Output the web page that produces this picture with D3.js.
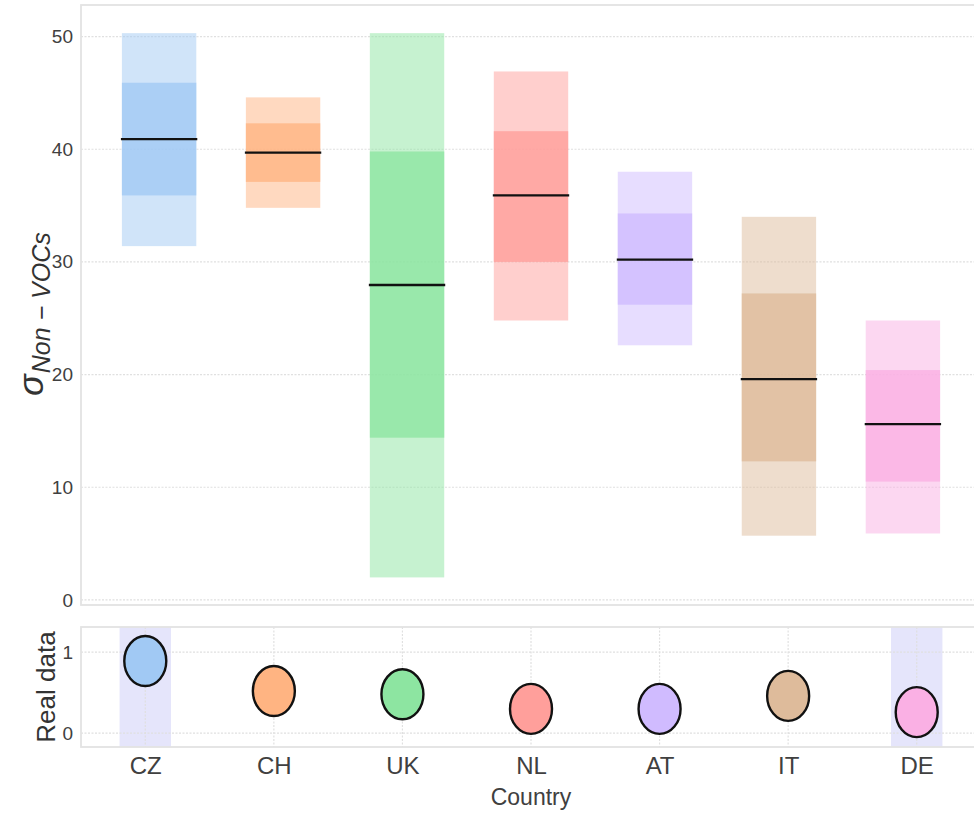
<!DOCTYPE html>
<html>
<head>
<meta charset="utf-8">
<script src="https://cdn.jsdelivr.net/npm/d3@7"></script>
<style>
  html, body { margin: 0; padding: 0; background: #fff; }
  svg { display: block; font-family: "Liberation Sans", Arial, sans-serif; }
</style>
</head>
<body>
<svg id="chart" width="974" height="814"></svg>
<script>
// Countries along the x axis
const countries = ["CZ", "CH", "UK", "NL", "AT", "IT", "DE"];
// Posterior summary of sigma per country
const medianVals = [40.9, 39.7, 27.95, 35.9, 30.2, 19.6, 15.6];
const innerLow   = [35.9, 37.1, 14.4, 30.0, 26.2, 12.3, 10.5];
const innerHigh  = [45.9, 42.3, 39.8, 41.6, 34.3, 27.2, 20.4];
const outerLow   = [31.4, 34.8, 2.0, 24.8, 22.6, 5.7, 5.9];
const outerHigh  = [50.3, 44.6, 50.3, 46.9, 38.0, 34.0, 24.8];
// Observed values shown in the lower panel
const realData = [0.89, 0.52, 0.48, 0.30, 0.30, 0.46, 0.26];
// Countries given a highlight band in the lower panel
const highlighted = ["CZ", "DE"];
// Tick values
const topTicks = [0, 10, 20, 30, 40, 50];
const bottomTicks = [0, 1];

const palette = ["#a1c9f4", "#ffb482", "#8de5a1", "#ff9f9b", "#d0bbff", "#debb9b", "#fab0e4"];

const svg = d3.select("#chart");
const left = 81, right = 981;
const topPanel = { top: 5, bottom: 605 };
const botPanel = { top: 627, bottom: 747 };

const idx = d3.range(countries.length);
const xTop = d3.scaleLinear().domain([-0.63, countries.length - 1 + 0.63]).range([left, right]);
const xBot = d3.scaleLinear().domain([-0.5, countries.length - 0.5]).range([left, right]);
const yTop = d3.scaleLinear().domain([-0.45, 52.8]).range([topPanel.bottom, topPanel.top]);
const yBot = d3.scaleLinear().domain([-0.17, 1.31]).range([botPanel.bottom, botPanel.top]);

const gridColor = "#e0e0e0";
const frameColor = "#e3e3e3";
const textColor = "#404040";

// ---------- Upper panel ----------
const gTop = svg.append("g");
gTop.append("g").selectAll("line").data(topTicks).join("line")
  .attr("x1", left).attr("x2", right)
  .attr("y1", d => yTop(d)).attr("y2", d => yTop(d))
  .attr("stroke", gridColor).attr("stroke-width", 1.2).attr("stroke-dasharray", "2,1.5");

const barW = (xTop(1) - xTop(0)) * 0.6;
gTop.append("g").selectAll("rect").data(idx).join("rect")
  .attr("x", i => xTop(i) - barW / 2).attr("width", barW)
  .attr("y", i => yTop(outerHigh[i])).attr("height", i => yTop(outerLow[i]) - yTop(outerHigh[i]))
  .attr("fill", i => palette[i]).attr("fill-opacity", 0.5);
gTop.append("g").selectAll("rect").data(idx).join("rect")
  .attr("x", i => xTop(i) - barW / 2).attr("width", barW)
  .attr("y", i => yTop(innerHigh[i])).attr("height", i => yTop(innerLow[i]) - yTop(innerHigh[i]))
  .attr("fill", i => palette[i]).attr("fill-opacity", 0.8);
gTop.append("g").selectAll("line").data(idx).join("line")
  .attr("x1", i => xTop(i) - barW / 2 - 1).attr("x2", i => xTop(i) + barW / 2 + 1)
  .attr("y1", i => yTop(medianVals[i])).attr("y2", i => yTop(medianVals[i]))
  .attr("stroke", "#111").attr("stroke-width", 2.3);

gTop.append("rect")
  .attr("x", left).attr("y", topPanel.top)
  .attr("width", right - left).attr("height", topPanel.bottom - topPanel.top)
  .attr("fill", "none").attr("stroke", frameColor).attr("stroke-width", 1.8);

const axTop = gTop.append("g").attr("transform", `translate(${left},0)`)
  .call(d3.axisLeft(yTop).tickValues(topTicks).tickFormat(d3.format("d")).tickSize(0).tickPadding(8));
axTop.select(".domain").remove();
axTop.selectAll("text").attr("fill", textColor).attr("font-size", 19)
  .attr("font-family", "Liberation Sans, Arial, sans-serif");

// y-axis title: sigma with subscript
const yTitle = svg.append("text")
  .attr("transform", "translate(43,396) rotate(-90)")
  .attr("fill", "#333");
yTitle.append("tspan").attr("font-size", 36).attr("font-style", "italic").text("σ");
yTitle.append("tspan").attr("font-size", 25).attr("font-style", "italic")
  .attr("dy", 7).attr("dx", 1).text("Non − VOCs");

// ---------- Lower panel ----------
const gBot = svg.append("g");
const bandW = (xBot(1) - xBot(0)) * 0.4;
gBot.append("g").selectAll("rect").data(highlighted).join("rect")
  .attr("x", c => xBot(countries.indexOf(c)) - bandW / 2).attr("width", bandW)
  .attr("y", botPanel.top).attr("height", botPanel.bottom - botPanel.top)
  .attr("fill", "#e5e5fb");

gBot.append("g").selectAll("line").data(bottomTicks).join("line")
  .attr("x1", left).attr("x2", right)
  .attr("y1", d => yBot(d)).attr("y2", d => yBot(d))
  .attr("stroke", gridColor).attr("stroke-width", 1.2).attr("stroke-dasharray", "2,1.5");
gBot.append("g").selectAll("line").data(idx).join("line")
  .attr("x1", i => xBot(i)).attr("x2", i => xBot(i))
  .attr("y1", botPanel.top).attr("y2", botPanel.bottom)
  .attr("stroke", gridColor).attr("stroke-width", 1.2).attr("stroke-dasharray", "2,1.5");

gBot.append("rect")
  .attr("x", left).attr("y", botPanel.top)
  .attr("width", right - left).attr("height", botPanel.bottom - botPanel.top)
  .attr("fill", "none").attr("stroke", frameColor).attr("stroke-width", 1.8);

gBot.append("g").selectAll("ellipse").data(idx).join("ellipse")
  .attr("cx", i => xBot(i)).attr("cy", i => yBot(realData[i]))
  .attr("rx", 21).attr("ry", 25)
  .attr("fill", i => palette[i]).attr("stroke", "#111").attr("stroke-width", 2.4);

const axBotY = gBot.append("g").attr("transform", `translate(${left},0)`)
  .call(d3.axisLeft(yBot).tickValues(bottomTicks).tickFormat(d3.format("d")).tickSize(0).tickPadding(8));
axBotY.select(".domain").remove();
axBotY.selectAll("text").attr("fill", textColor).attr("font-size", 19)
  .attr("font-family", "Liberation Sans, Arial, sans-serif");

const axBotX = gBot.append("g").attr("transform", `translate(0,${botPanel.bottom})`)
  .call(d3.axisBottom(xBot).tickValues(idx).tickFormat(i => countries[i]).tickSize(0).tickPadding(10));
axBotX.select(".domain").remove();
axBotX.selectAll("text").attr("fill", textColor).attr("font-size", 24)
  .attr("font-family", "Liberation Sans, Arial, sans-serif");

svg.append("text")
  .attr("transform", `translate(55,${(botPanel.top + botPanel.bottom) / 2}) rotate(-90)`)
  .attr("text-anchor", "middle").attr("fill", "#333").attr("font-size", 26)
  .text("Real data");

svg.append("text")
  .attr("x", xBot(3)).attr("y", 805)
  .attr("text-anchor", "middle").attr("fill", textColor).attr("font-size", 23)
  .text("Country");
</script>
</body>
</html>
